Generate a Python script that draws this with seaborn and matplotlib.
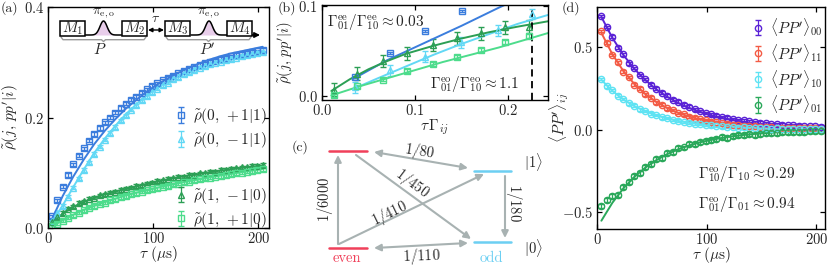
import numpy as np
import matplotlib
matplotlib.use("Agg")
import matplotlib.pyplot as plt
import seaborn as sns

# ---- data ----
tau = [4, 9, 14, 19, 24, 29, 34, 39, 44, 49, 54, 59, 64, 69, 74, 79, 84, 89, 94, 99,
       104, 109, 114, 119, 124, 129, 134, 139, 144, 149, 154, 159, 164, 169, 174, 179,
       184, 189, 194, 199, 204]
tau_fit = [4, 14, 24, 34, 44, 54, 64, 74, 84, 94, 104, 114, 124, 134, 144, 154, 164,
           174, 184, 194, 204]

# panel (a)
rho_0p1 = [0.021, 0.050, 0.075, 0.096, 0.115, 0.131, 0.144, 0.158, 0.170, 0.181,
           0.191, 0.200, 0.209, 0.217, 0.225, 0.232, 0.238, 0.245, 0.251, 0.257,
           0.262, 0.267, 0.272, 0.276, 0.280, 0.284, 0.288, 0.291, 0.295, 0.298,
           0.301, 0.303, 0.306, 0.308, 0.311, 0.313, 0.315, 0.317, 0.319, 0.320,
           0.322]
rho_0m1 = [0.012, 0.027, 0.040, 0.057, 0.073, 0.090, 0.105, 0.119, 0.134, 0.147,
           0.160, 0.172, 0.183, 0.195, 0.204, 0.214, 0.222, 0.231, 0.239, 0.246,
           0.252, 0.258, 0.263, 0.269, 0.273, 0.278, 0.282, 0.286, 0.290, 0.293,
           0.296, 0.299, 0.301, 0.304, 0.306, 0.308, 0.311, 0.313, 0.315, 0.316,
           0.318]
rho_1m0 = [0.010, 0.020, 0.027, 0.035, 0.039, 0.045, 0.048, 0.053, 0.055, 0.059,
           0.061, 0.064, 0.066, 0.069, 0.071, 0.073, 0.076, 0.077, 0.080, 0.082,
           0.085, 0.086, 0.089, 0.090, 0.093, 0.093, 0.096, 0.096, 0.099, 0.099,
           0.102, 0.102, 0.105, 0.105, 0.107, 0.108, 0.110, 0.110, 0.112, 0.112,
           0.114]
rho_1p0 = [0.003, 0.008, 0.013, 0.019, 0.023, 0.028, 0.032, 0.037, 0.040, 0.044,
           0.046, 0.050, 0.052, 0.056, 0.058, 0.061, 0.063, 0.066, 0.068, 0.070,
           0.072, 0.075, 0.076, 0.079, 0.080, 0.083, 0.084, 0.087, 0.088, 0.090,
           0.091, 0.093, 0.094, 0.096, 0.097, 0.099, 0.100, 0.102, 0.103, 0.105,
           0.106]
fit_0p1 = [0.017, 0.058, 0.093, 0.124, 0.152, 0.176, 0.197, 0.216, 0.232, 0.247, 0.260,
           0.271, 0.281, 0.290, 0.298, 0.305, 0.311, 0.316, 0.320, 0.324, 0.328]
fit_0m1 = [0.011, 0.041, 0.074, 0.106, 0.136, 0.162, 0.185, 0.206, 0.224, 0.241, 0.255,
           0.266, 0.276, 0.285, 0.292, 0.298, 0.304, 0.309, 0.313, 0.317, 0.320]
fit_1m0 = [0.009, 0.026, 0.038, 0.047, 0.055, 0.061, 0.066, 0.071, 0.075, 0.080, 0.084,
           0.088, 0.092, 0.095, 0.098, 0.101, 0.104, 0.106, 0.109, 0.111, 0.113]
fit_1p0 = [0.003, 0.014, 0.024, 0.033, 0.040, 0.047, 0.053, 0.059, 0.064, 0.068, 0.073,
           0.077, 0.081, 0.085, 0.088, 0.092, 0.095, 0.098, 0.101, 0.104, 0.107]

# panel (b)
tg_blue = [0.035, 0.073, 0.111, 0.150]
b_blue = [0.021, 0.048, 0.072, 0.094]
tg_cyan = [0.0355, 0.073, 0.111, 0.149, 0.189, 0.226]
b_cyan = [0.010, 0.029, 0.044, 0.060, 0.073, 0.091]
tg_green = [0.0128, 0.038, 0.066, 0.0915, 0.119, 0.145, 0.171, 0.197, 0.2227]
b_dgreen = [0.0074, 0.025, 0.039, 0.0474, 0.0567, 0.064, 0.0696, 0.0763, 0.077]
b_lgreen = [0.0011, 0.011, 0.0185, 0.028, 0.036, 0.0437, 0.051, 0.060, 0.0667]
bf_blue_x = [0.033, 0.070, 0.110, 0.150, 0.190, 0.205]
bf_blue_y = [0.019, 0.040, 0.059, 0.078, 0.098, 0.105]
bf_cyan_x = [0.033, 0.060, 0.090, 0.120, 0.150, 0.180, 0.210, 0.243]
bf_cyan_y = [0.008, 0.020, 0.033, 0.046, 0.058, 0.069, 0.080, 0.090]
bf_dg_x = [0.010, 0.030, 0.050, 0.070, 0.090, 0.120, 0.150, 0.180, 0.210, 0.243]
bf_dg_y = [0.006, 0.019, 0.030, 0.039, 0.047, 0.056, 0.064, 0.071, 0.077, 0.083]
bf_lg_x = [0.010, 0.040, 0.070, 0.100, 0.130, 0.160, 0.190, 0.220, 0.243]
bf_lg_y = [0.001, 0.011, 0.020, 0.029, 0.038, 0.046, 0.054, 0.063, 0.070]
tg_dashed = 0.226

# panel (d)
pp00 = [0.685, 0.620, 0.560, 0.495, 0.455, 0.400, 0.372, 0.330, 0.305, 0.272,
        0.248, 0.222, 0.205, 0.181, 0.168, 0.150, 0.138, 0.122, 0.113, 0.101,
        0.093, 0.085, 0.076, 0.072, 0.064, 0.058, 0.055, 0.049, 0.046, 0.041,
        0.040, 0.034, 0.033, 0.030, 0.028, 0.025, 0.024, 0.022, 0.021, 0.019,
        0.018]
pp11 = [0.595, 0.525, 0.450, 0.405, 0.350, 0.318, 0.272, 0.248, 0.212, 0.193,
        0.165, 0.150, 0.128, 0.118, 0.100, 0.093, 0.078, 0.072, 0.061, 0.057,
        0.048, 0.045, 0.037, 0.036, 0.030, 0.028, 0.023, 0.022, 0.019, 0.018,
        0.015, 0.014, 0.012, 0.012, 0.010, 0.010, 0.009, 0.008, 0.008, 0.007,
        0.006]
pp10 = [0.305, 0.262, 0.240, 0.205, 0.185, 0.158, 0.145, 0.122, 0.113, 0.096,
        0.088, 0.074, 0.069, 0.057, 0.054, 0.045, 0.042, 0.035, 0.033, 0.027,
        0.026, 0.021, 0.020, 0.016, 0.016, 0.012, 0.013, 0.010, 0.011, 0.008,
        0.009, 0.006, 0.008, 0.005, 0.006, 0.004, 0.005, 0.003, 0.004, 0.002,
        0.003]
pp01 = [-0.460, -0.425, -0.400, -0.395, -0.345, -0.318, -0.280, -0.262, -0.225, -0.210,
        -0.180, -0.172, -0.140, -0.138, -0.112, -0.108, -0.088, -0.085, -0.072, -0.070,
        -0.060, -0.057, -0.046, -0.050, -0.038, -0.030, -0.034, -0.028, -0.030, -0.024,
        -0.020, -0.022, -0.018, -0.015, -0.016, -0.014, -0.012, -0.013, -0.010, -0.011,
        -0.009]
fit00 = [0.680, 0.554, 0.451, 0.367, 0.299, 0.243, 0.198, 0.161, 0.131, 0.107, 0.087,
         0.071, 0.058, 0.047, 0.038, 0.031, 0.025, 0.021, 0.017, 0.014, 0.011]
fit11 = [0.584, 0.455, 0.354, 0.276, 0.215, 0.167, 0.130, 0.101, 0.079, 0.061, 0.048,
         0.037, 0.029, 0.023, 0.018, 0.014, 0.011, 0.008, 0.006, 0.005, 0.004]
fit10 = [0.300, 0.234, 0.182, 0.142, 0.111, 0.086, 0.067, 0.052, 0.041, 0.032, 0.025,
         0.019, 0.015, 0.012, 0.009, 0.007, 0.006, 0.004, 0.003, 0.003, 0.002]
fit01 = [-0.550, -0.442, -0.355, -0.286, -0.230, -0.185, -0.148, -0.119, -0.096, -0.077,
         -0.062, -0.050, -0.040, -0.032, -0.026, -0.021, -0.017, -0.013, -0.011, -0.009,
         -0.007]

# colours
c_blue = "#3b7ddd"
c_cyan = "#62d8f5"
c_dgreen = "#2c9f55"
c_lgreen = "#4ddc8c"
c_purple = "#5a22d6"
c_red = "#f35b45"
c_cyan_d = "#5fe3f3"
c_green_d = "#2aa85a"
c_even = "#f0405a"
c_odd = "#6ccff2"
c_gray = "#a8b2b2"

sns.set_style("ticks")
plt.rcParams.update({
    "font.family": "serif",
    "font.serif": ["cmr10"],
    "mathtext.fontset": "cm",
    "axes.formatter.use_mathtext": True,
    "xtick.direction": "in",
    "ytick.direction": "in",
    "xtick.top": True,
    "ytick.right": True,
    "axes.linewidth": 1.0,
    "axes.edgecolor": "black",
})

W, H = 831, 267
fig = plt.figure(figsize=(W / 100, H / 100), dpi=100)


def px_axes(left, top, right, bottom):
    return fig.add_axes([left / W, 1 - bottom / H, (right - left) / W, (bottom - top) / H])


def style(ax):
    ax.tick_params(labelsize=10.5, length=3.5, width=0.9, color="black", pad=3)
    ax.tick_params(axis="x", pad=2)


def errs(ax, x, y, c, m, lab=None, err=0.003, ms=4.5):
    return ax.errorbar(x, y, yerr=err, fmt=m, mfc="none", mec=c, color=c, ms=ms, mew=1.0,
                       elinewidth=0.9, capsize=2, capthick=0.9, label=lab)


# ---- (a) ----
ax_a = px_axes(48, 7, 269, 228)
style(ax_a)
h1 = errs(ax_a, tau, rho_0p1, c_blue, "s", r"$\tilde{\rho}(0,\,+1|1)$")
h2 = errs(ax_a, tau, rho_0m1, c_cyan, "^", r"$\tilde{\rho}(0,\,-1|1)$")
h3 = errs(ax_a, tau, rho_1m0, c_dgreen, "^", r"$\tilde{\rho}(1,\,-1|0)$")
h4 = errs(ax_a, tau, rho_1p0, c_lgreen, "s", r"$\tilde{\rho}(1,\,+1|0)$")
for f, c in [(fit_0p1, c_blue), (fit_0m1, c_cyan), (fit_1m0, c_dgreen), (fit_1p0, c_lgreen)]:
    sns.lineplot(x=tau_fit, y=f, ax=ax_a, color=c, lw=1.4, legend=False)
ax_a.set_xlim(0, 210)
ax_a.set_ylim(0, 0.4)
ax_a.set_xticks([0, 100, 200])
ax_a.set_yticks([0.0, 0.2, 0.4])
ax_a.set_xlabel(r"$\tau\ (\mu\mathrm{s})$", fontsize=11, labelpad=-1)
ax_a.set_ylabel(r"$\tilde{\rho}(j,\,pp'|i)$", fontsize=11, labelpad=2)
lg_kw = dict(frameon=False, fontsize=11, handlelength=0.8, handletextpad=0.4,
             labelspacing=0.25, borderaxespad=0, borderpad=0)
leg1 = ax_a.legend(handles=[h1, h2], loc="upper left", bbox_to_anchor=(0.575, 0.55), **lg_kw)
ax_a.add_artist(leg1)
ax_a.legend(handles=[h3, h4], loc="upper left", bbox_to_anchor=(0.575, 0.19), **lg_kw)

# ---- (b) ----
ax_b = px_axes(322, 5, 548, 100)
style(ax_b)
errs(ax_b, tg_blue, b_blue, c_blue, "s", err=0.001)
errs(ax_b, tg_cyan, b_cyan, c_cyan, "^", err=0.006)
errs(ax_b, tg_green, b_dgreen, c_dgreen, "^", err=0.007)
errs(ax_b, tg_green, b_lgreen, c_lgreen, "s", err=0.002)
sns.lineplot(x=bf_blue_x, y=bf_blue_y, ax=ax_b, color=c_blue, lw=1.4)
sns.lineplot(x=bf_cyan_x, y=bf_cyan_y, ax=ax_b, color=c_cyan, lw=1.4)
sns.lineplot(x=bf_dg_x, y=bf_dg_y, ax=ax_b, color=c_dgreen, lw=1.4)
sns.lineplot(x=bf_lg_x, y=bf_lg_y, ax=ax_b, color=c_lgreen, lw=1.4)
ax_b.axvline(tg_dashed, color="black", ls=(0, (4, 2.5)), lw=1.3)
ax_b.set_xlim(0, 0.243)
ax_b.set_ylim(-0.004, 0.101)
ax_b.set_xticks([0.0, 0.1, 0.2])
ax_b.set_yticks([0.0, 0.1])
ax_b.set_xlabel(r"$\tau\,\Gamma_{ij}$", fontsize=11, labelpad=0)
ax_b.set_ylabel(r"$\tilde{\rho}(j,\,pp'|i)$", fontsize=10.5, labelpad=2)
ax_b.text(0.02, 0.78, r"$\Gamma^{\mathrm{ee}}_{01}/\Gamma^{\mathrm{ee}}_{10}\approx 0.03$",
          transform=ax_b.transAxes, fontsize=11)
ax_b.text(0.48, 0.13, r"$\Gamma^{\mathrm{eo}}_{01}/\Gamma^{\mathrm{eo}}_{10}\approx 1.1$",
          transform=ax_b.transAxes, fontsize=11)

# ---- (d) ----
ax_d = px_axes(597, 7, 825, 229)
style(ax_d)
g1 = errs(ax_d, tau, pp00, c_purple, "o", r"$\langle PP'\rangle_{00}$", err=0.008)
g2 = errs(ax_d, tau, pp11, c_red, "o", r"$\langle PP'\rangle_{11}$", err=0.008)
g3 = errs(ax_d, tau, pp10, c_cyan_d, "o", r"$\langle PP'\rangle_{10}$", err=0.008)
g4 = errs(ax_d, tau, pp01, c_green_d, "o", r"$\langle PP'\rangle_{01}$", err=0.012)
for f, c in [(fit00, c_purple), (fit11, c_red), (fit10, c_cyan_d), (fit01, c_green_d)]:
    sns.lineplot(x=tau_fit, y=f, ax=ax_d, color=c, lw=1.4, legend=False)
ax_d.set_xlim(0, 208)
ax_d.set_ylim(-0.6, 0.74)
ax_d.set_xticks([0, 100, 200])
ax_d.set_yticks([-0.5, 0.0, 0.5])
ax_d.set_xlabel(r"$\tau\ (\mu\mathrm{s})$", fontsize=11, labelpad=-1)
ax_d.set_ylabel(r"$\langle PP'\rangle_{ij}$", fontsize=11)
ax_d.yaxis.set_label_coords(-0.115, 0.5)
ax_d.legend(handles=[g1, g2, g3, g4], loc="upper right", bbox_to_anchor=(0.99, 0.96),
            **lg_kw)
ax_d.text(92, -0.27, r"$\Gamma^{\mathrm{eo}}_{10}/\Gamma_{10}\approx 0.29$", fontsize=11,
          va="center")
ax_d.text(92, -0.45, r"$\Gamma^{\mathrm{eo}}_{01}/\Gamma_{01}\approx 0.94$", fontsize=11,
          va="center")

# ---- overlay in pixel coordinates: schematic in (a), level diagram (c), panel tags ----
ov = fig.add_axes([0, 0, 1, 1])
ov.set_xlim(0, W)
ov.set_ylim(H, 0)
ov.axis("off")

for lab, x, y in [("(a)", 1, 8), ("(b)", 278, 8), ("(c)", 292, 147), ("(d)", 562, 8)]:
    ov.text(x, y, lab, fontsize=10, va="center", ha="left")

# pulse sequence
base = 35
for i, (x0, x1) in enumerate([(60, 85), (122, 147), (165, 190), (227, 252)]):
    ov.add_patch(plt.Rectangle((x0, 21), x1 - x0, 15, fill=True, fc="white", ec="black",
                               lw=1.1, zorder=5))
    ov.text((x0 + x1) / 2, 28.5, r"$M_{%d}$" % (i + 1), fontsize=11, ha="center",
            va="center", zorder=6)
for cx in (103.5, 209):
    xs = np.linspace(cx - 18, cx + 18, 80)
    ys = base - 14 * np.exp(-((xs - cx) / 5.0) ** 2)
    ov.fill_between(xs, ys, base, color="#e8cdea", lw=0)
    ov.plot(xs, ys, color="black", lw=1.1)
    ov.text(cx, 13, r"$\pi_{\mathrm{e,o}}$", fontsize=10, ha="center", va="center")
ov.annotate("", xy=(260, base), xytext=(252, base),
            arrowprops=dict(arrowstyle="-|>", color="black", lw=1.1, mutation_scale=8,
                            shrinkA=0, shrinkB=0))
ov.annotate("", xy=(164, 30), xytext=(148, 30),
            arrowprops=dict(arrowstyle="<|-|>", color="black", lw=1.0, mutation_scale=6,
                            shrinkA=0, shrinkB=0))
ov.text(156, 19, r"$\tau$", fontsize=10, ha="center", va="center")


def brace(x0, x1, y, h=4.5):
    xm = (x0 + x1) / 2
    ov.plot([x0, x0 + 2, xm - 2, xm, xm + 2, x1 - 2, x1],
            [y, y + h * 0.6, y + h * 0.6, y + h, y + h * 0.6, y + h * 0.6, y],
            color="#9a9a9a", lw=1.0)


brace(61, 146, 37)
brace(166, 251, 37)
ov.text(100, 50, r"$P$", fontsize=11, ha="center", va="center")
ov.text(207, 50, r"$P'$", fontsize=11, ha="center", va="center")

# level diagram (c)
ov.plot([329, 367], [151, 151], color=c_even, lw=1.8)
ov.plot([329, 367], [248, 248], color=c_even, lw=1.8)
ov.plot([474, 511], [171, 171], color=c_odd, lw=1.8)
ov.plot([474, 511], [242, 242], color=c_odd, lw=1.8)


def arrow(p0, p1, style="-|>"):
    ov.annotate("", xy=p1, xytext=p0,
                arrowprops=dict(arrowstyle=style, color=c_gray, lw=1.5, mutation_scale=10,
                                shrinkA=0, shrinkB=0))


arrow((338, 244), (338, 155))
arrow((374, 152), (468, 168), "<|-|>")
arrow((356, 155), (471, 239))
arrow((339, 244), (484, 174))
arrow((374, 248), (468, 243), "<|-|>")
arrow((505, 176), (505, 238))
kw = dict(fontsize=10.5, ha="center", va="center")
ov.text(325, 199, r"$1/6000$", rotation=90, **kw)
ov.text(420, 152, r"$1/80$", rotation=-9, **kw)
ov.text(412, 183, r"$1/450$", rotation=-37, **kw)
ov.text(390, 214, r"$1/410$", rotation=26, **kw)
ov.text(422, 256, r"$1/110$", rotation=2, **kw)
ov.text(514, 203, r"$1/180$", rotation=-90, **kw)
ov.text(533, 162, r"$|1\rangle$", **kw)
ov.text(533, 248, r"$|0\rangle$", **kw)
ov.text(347, 258, "even", color=c_even, fontsize=10.5, ha="center", va="center")
ov.text(491, 258, "odd", color=c_odd, fontsize=10.5, ha="center", va="center")

fig.savefig("out.png", dpi=100)
